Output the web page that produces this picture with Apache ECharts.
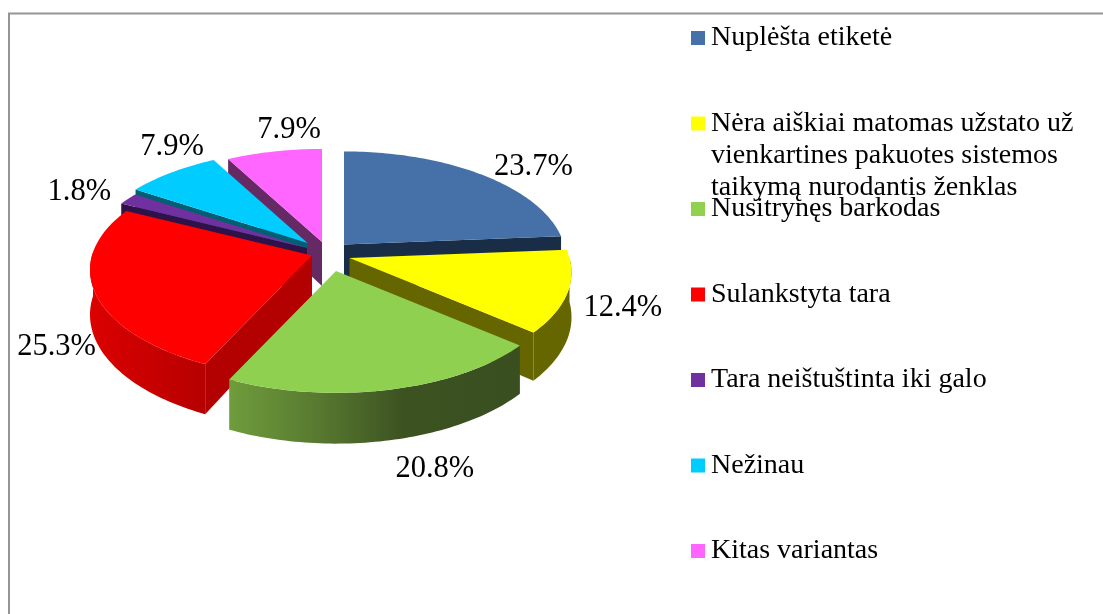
<!DOCTYPE html>
<html>
<head>
<meta charset="utf-8">
<style>
  html, body { margin: 0; padding: 0; background: #fff; }
  #main { width: 1103px; height: 614px; }
</style>
<script src="https://cdn.jsdelivr.net/npm/echarts@6/dist/echarts.min.js"></script>
</head>
<body>
<div id="main"></div>
<script>
var categories = [
  'Nuplėšta etiketė',
  'Nėra aiškiai matomas užstato už\nvienkartines pakuotes sistemos\ntaikymą nurodantis ženklas',
  'Nusitrynęs barkodas',
  'Sulankstyta tara',
  'Tara neištuštinta iki galo',
  'Nežinau',
  'Kitas variantas'
];
var values = [23.7, 12.4, 20.8, 25.3, 1.8, 7.9, 7.9];

var topColors = ['#4571a8', '#ffff00', '#8fd050', '#ff0000', '#7030a0', '#00ccff', '#ff66ff'];
var sideColors = ['#1a2d47', '#666600', '#3a4f20', '#b30000', '#2e1248', '#005f70', '#652a63'];
var legendColors = ['#4571a8', '#ffff00', '#92d050', '#ff0000', '#7030a0', '#00ccff', '#ff66ff'];
// paint order, back of the pie first
var drawOrder = [6, 5, 4, 0, 3, 1, 2];
// how far each slice is pulled out of the pie
var explode = [[15, -9.5], [20.5, 4], [7, 17], [-17, 1.5], [-22, -6], [-21.5, -11], [-7, -12]];
var labelOffset = [[53.5, -6.8], [55, 16], [45, 79], [-38, 55], [-48.6, -7], [0.5, -25], [15, -21.6]];

var FONT = '"Liberation Serif", "Times New Roman", serif';
var cx = 329, cy = 254;
var rx = 220, ry = 105.5;
var persp = 0.134;     // near side of the pie draws bigger
var depth = 44;

var total = values.reduce(function (a, b) { return a + b; }, 0);
var starts = [];
values.reduce(function (sum, v, i) { starts[i] = sum; return sum + v; }, 0);

function toRad(v) {
  return v / total * Math.PI * 2;
}

function scaleAt(t) {
  return 1 / (1 + persp * Math.cos(t));
}

function pointAt(apex, t, low) {
  var s = scaleAt(t);
  return [
    apex[0] + rx * Math.sin(t) * s,
    apex[1] - ry * Math.cos(t) * s + (low ? depth * s : 0)
  ];
}

function arcPoints(apex, a, b, low) {
  var pts = [];
  var n = Math.max(2, Math.ceil((b - a) / 0.02));
  for (var k = 0; k <= n; k++) {
    pts.push(pointAt(apex, a + (b - a) * k / n, low));
  }
  return pts;
}

function faceOf(apex, t, fill) {
  return {
    type: 'polygon',
    shape: { points: [apex, pointAt(apex, t), pointAt(apex, t, true), [apex[0], apex[1] + depth]] },
    style: { fill: fill }
  };
}

function wallFill(i) {
  if (i === 2) {
    return new echarts.graphic.LinearGradient(0, 0, 1, 0, [
      { offset: 0, color: '#6f9c3c' },
      { offset: 0.3, color: '#587a30' },
      { offset: 0.6, color: '#3c5221' },
      { offset: 1, color: '#3a4f20' }
    ]);
  }
  if (i === 3) {
    return new echarts.graphic.LinearGradient(0, 0, 1, 0, [
      { offset: 0, color: '#dc0000' },
      { offset: 1, color: '#b60000' }
    ]);
  }
  return sideColors[i];
}

function renderSlice(i) {
  return function (params, api) {
    var a = toRad(starts[i]);
    var b = a + toRad(api.value(0));
    var mid = (a + b) / 2;
    var apex = [cx + explode[i][0], cy + explode[i][1]];
    var children = [];

    if (Math.sin(a) < 0) children.push(faceOf(apex, a, sideColors[i]));
    if (Math.sin(b) > 0) children.push(faceOf(apex, b, sideColors[i]));

    // outer wall, only the part that faces the viewer
    var wa = Math.max(a, Math.PI / 2), wb = Math.min(b, Math.PI * 1.51);
    if (wb > wa) {
      children.push({
        type: 'polygon',
        shape: { points: arcPoints(apex, wa, wb).concat(arcPoints(apex, wa, wb, true).reverse()) },
        style: { fill: wallFill(i) }
      });
    }

    children.push({
      type: 'polygon',
      shape: { points: [apex].concat(arcPoints(apex, a, b)) },
      style: { fill: topColors[i] }
    });

    var anchor = pointAt(apex, mid);
    children.push({
      type: 'text',
      z2: 10,
      style: {
        x: anchor[0] + labelOffset[i][0],
        y: anchor[1] + labelOffset[i][1],
        text: api.value(0).toFixed(1) + '%',
        font: '30.5px ' + FONT,
        fill: '#000',
        align: 'center',
        verticalAlign: 'middle'
      }
    });
    return { type: 'group', children: children };
  };
}

var chart = echarts.init(document.getElementById('main'));

var extraLines = categories[1].split('\n').slice(1).map(function (line, k) {
  return {
    type: 'text',
    left: 711,
    top: 142 + k * 32,
    style: { text: line, font: '28px ' + FONT, fill: '#000' }
  };
});

chart.setOption({
  animation: false,
  backgroundColor: '#fff',
  legend: {
    orient: 'vertical',
    left: 686,
    top: 19,
    icon: 'rect',
    itemWidth: 14,
    itemHeight: 14,
    itemGap: 57.5,
    selectedMode: false,
    data: categories,
    textStyle: { fontFamily: FONT, fontSize: 28, color: '#000', padding: [0, 0, 0, 1] },
    formatter: function (name) { return name.split('\n')[0]; }
  },
  graphic: [{
    type: 'polyline',
    shape: { points: [[1110, 13.5], [9, 13.5], [9, 620]] },
    style: { stroke: '#959595', lineWidth: 2, fill: null }
  }].concat(extraLines),
  series: drawOrder.map(function (i) {
    return {
      type: 'custom',
      name: categories[i],
      coordinateSystem: 'none',
      silent: true,
      itemStyle: { color: legendColors[i] },
      renderItem: renderSlice(i),
      data: [[values[i]]]
    };
  })
});
</script>
</body>
</html>
